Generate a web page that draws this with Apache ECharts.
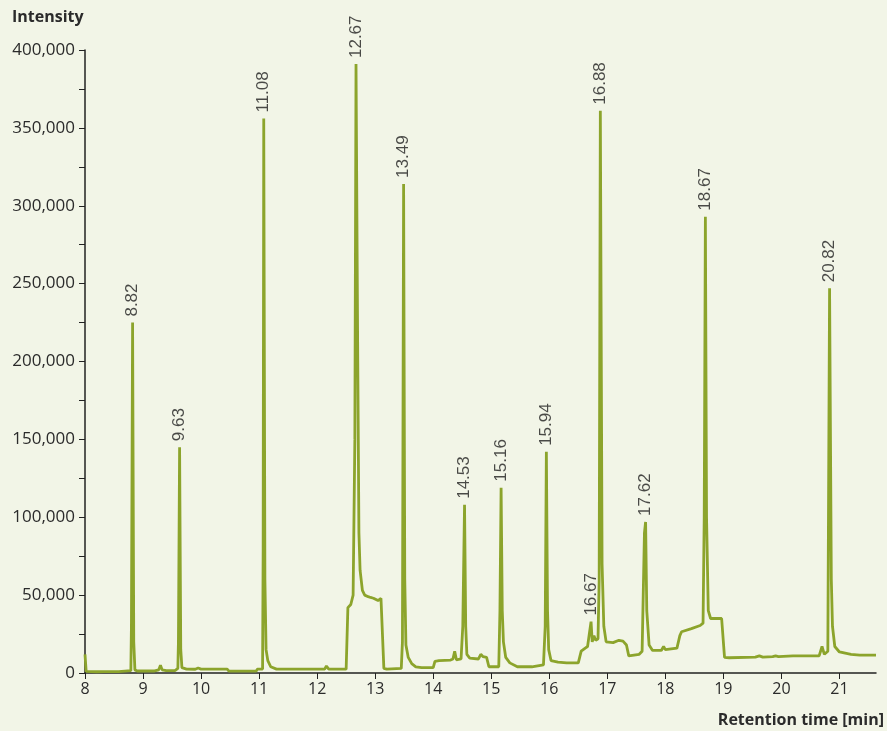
<!DOCTYPE html>
<html>
<head>
<meta charset="utf-8">
<title>Chromatogram</title>
<script src="https://cdn.jsdelivr.net/npm/echarts@6/dist/echarts.min.js"></script>
<style>
  html, body { margin: 0; padding: 0; background: #f2f5e7; }
  #chart { width: 887px; height: 731px; }
</style>
</head>
<body>
<div id="chart"></div>
<script>
// retention time (min) and detector intensity
var retentionTime = [
  8.00, 8.02, 8.20, 8.33, 8.36, 8.40, 8.58, 8.60, 8.79, 8.80, 8.82, 8.84, 8.86, 8.90,
  9.20, 9.27, 9.30, 9.33, 9.40, 9.55, 9.60, 9.61, 9.63, 9.65, 9.67, 9.75, 9.90, 9.95,
  10.00, 10.45, 10.48, 10.95, 10.97, 11.06, 11.07, 11.08, 11.10, 11.12, 11.15, 11.20,
  11.30, 11.70, 11.72, 11.75, 12.13, 12.16, 12.20, 12.50, 12.53, 12.58, 12.62, 12.65,
  12.67, 12.70, 12.72, 12.74, 12.78, 12.82, 12.88, 12.92, 12.97, 13.05, 13.10, 13.11,
  13.15, 13.20, 13.45, 13.47, 13.49, 13.51, 13.53, 13.57, 13.63, 13.70, 13.80, 14.00,
  14.03, 14.10, 14.30, 14.34, 14.37, 14.40, 14.48, 14.51, 14.54, 14.56, 14.58, 14.63,
  14.78, 14.82, 14.86, 14.92, 14.96, 15.13, 15.15, 15.17, 15.19, 15.21, 15.25, 15.32,
  15.45, 15.70, 15.73, 15.90, 15.93, 15.95, 15.97, 15.99, 16.03, 16.15, 16.30, 16.50,
  16.55, 16.62, 16.66, 16.69, 16.72, 16.74, 16.77, 16.80, 16.84, 16.86, 16.88, 16.91,
  16.94, 16.98, 17.10, 17.20, 17.27, 17.33, 17.37, 17.55, 17.60, 17.64, 17.66, 17.68,
  17.72, 17.78, 17.93, 17.97, 18.00, 18.20, 18.25, 18.28, 18.45, 18.60, 18.65, 18.67,
  18.69, 18.71, 18.74, 18.78, 18.97, 19.02, 19.10, 19.55, 19.62, 19.68, 19.85, 19.90,
  19.95, 20.20, 20.65, 20.70, 20.74, 20.80, 20.83, 20.86, 20.88, 20.92, 21.00, 21.20,
  21.35, 21.63
];
var intensity = [
  12000, 1000, 800, 900, 1600, 900, 900, 1500, 1500, 30000, 225000, 20000, 2000, 1300,
  1300, 2000, 5000, 2000, 1500, 1600, 3000, 20000, 145000, 15000, 3500, 2500, 2400, 3200,
  2500, 2500, 1200, 1200, 2500, 2500, 80000, 356000, 60000, 15000, 8000, 4000,
  2500, 2500, 3500, 2500, 2500, 4500, 2500, 2500, 42000, 44000, 50000, 150000,
  391000, 200000, 90000, 66000, 53000, 50000, 49000, 48500, 48000, 46500, 48000, 47500,
  3000, 2500, 3000, 20000, 314000, 60000, 18000, 10000, 6000, 4000, 3500, 3500,
  7500, 8000, 8300, 9000, 14000, 8500, 9000, 30000, 108000, 30000, 12000, 9500,
  9000, 12000, 10500, 10000, 4000, 4000, 40000, 119000, 40000, 20000, 10000, 6500,
  4000, 4000, 5000, 5200, 30000, 142000, 40000, 15000, 8000, 7000, 6500, 6500,
  14000, 16000, 17000, 25000, 33000, 20000, 24000, 21000, 22000, 60000, 361000, 70000,
  30000, 20000, 19500, 21000, 20500, 18000, 11000, 12000, 14000, 90000, 97000, 40000,
  18000, 14500, 14500, 17000, 15000, 16000, 24000, 26500, 28500, 30500, 32000, 100000,
  293000, 100000, 40000, 35000, 35000, 10000, 9800, 10200, 11000, 10200, 10500, 11000,
  10500, 11000, 11000, 17000, 12000, 14000, 247000, 60000, 30000, 17000, 13500, 12000,
  11500, 11500
];

// annotated peaks
var peakNames = ['8.82', '9.63', '11.08', '12.67', '13.49', '14.53', '15.16', '15.94',
  '16.67', '16.88', '17.62', '18.67', '20.82'];
var peakTime = [8.82, 9.63, 11.08, 12.67, 13.49, 14.54, 15.17, 15.95, 16.72, 16.88,
  17.66, 18.69, 20.83];
var peakHeight = [225000, 145000, 356000, 391000, 314000, 108000, 119000, 142000,
  33000, 361000, 97000, 293000, 247000];

var xTicks = [8, 9, 10, 11, 12, 13, 14, 15, 16, 17, 18, 19, 20, 21];

var trace = retentionTime.map(function (t, i) { return [t, intensity[i]]; });
var peaks = peakTime.map(function (t, i) { return { value: [t, peakHeight[i]], name: peakNames[i] }; });

var chart = echarts.init(document.getElementById('chart'));

chart.setOption({
  backgroundColor: '#f2f5e7',
  animation: false,
  grid: { left: 85, right: 11, top: 50, bottom: 58 },
  xAxis: {
    type: 'value',
    min: 8,
    max: 21.63,
    interval: 1,
    axisLine: { lineStyle: { color: '#222', width: 1.5 } },
    axisTick: { show: true, length: 6, customValues: xTicks, lineStyle: { color: '#222' } },
    axisLabel: {
      customValues: xTicks,
      color: '#2b2b2b', fontSize: 16, fontFamily: 'Open Sans', margin: 8
    },
    splitLine: { show: false }
  },
  yAxis: {
    type: 'value',
    min: 0,
    max: 400000,
    interval: 50000,
    axisLine: { show: true, lineStyle: { color: '#222', width: 1.5 } },
    axisTick: { show: true, length: 6, lineStyle: { color: '#222' } },
    minorTick: { show: true, splitNumber: 2, length: 6, lineStyle: { color: '#222' } },
    axisLabel: {
      color: '#2b2b2b', fontSize: 17, fontFamily: 'Open Sans', margin: 10,
      formatter: function (v) { return v.toLocaleString('en-US'); }
    },
    splitLine: { show: false }
  },
  graphic: [
    {
      type: 'text', left: 12, top: 9,
      style: { text: 'Intensity', fontSize: 16, fontWeight: 'bold', fontFamily: 'Open Sans', fill: '#2b2b2b' }
    },
    {
      type: 'text', right: 3, bottom: 3,
      style: { text: 'Retention time [min]', fontSize: 16, fontWeight: 'bold', fontFamily: 'Open Sans', fill: '#2b2b2b' }
    }
  ],
  series: [
    {
      type: 'line',
      data: trace,
      symbol: 'none',
      lineStyle: { color: '#8ca42c', width: 2.8 },
      z: 2
    },
    {
      type: 'scatter',
      data: peaks,
      symbolSize: 0,
      silent: true,
      label: {
        show: true,
        position: 'top',
        distance: 6,
        rotate: 90,
        align: 'left',
        verticalAlign: 'middle',
        formatter: '{b}',
        color: '#1e1e1e',
        fontSize: 17,
        fontFamily: 'Liberation Sans'
      },
      z: 3
    }
  ]
});
</script>
</body>
</html>
